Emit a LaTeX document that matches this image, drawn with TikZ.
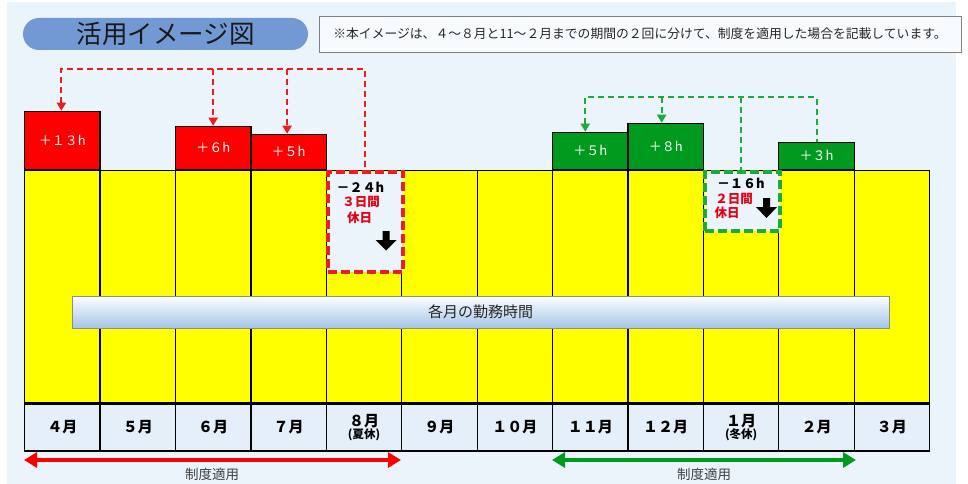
\documentclass[tikz,border=0pt]{standalone}
\usepackage{fontspec}
\setmainfont{Noto Sans CJK JP}
\usetikzlibrary{arrows.meta}
\definecolor{bgblue}{HTML}{EBF4FB}
\definecolor{pillblue}{HTML}{7399D4}
\definecolor{boxred}{HTML}{FF0000}
\definecolor{boxgreen}{HTML}{009A1E}
\definecolor{dashred}{HTML}{EE1C1C}
\definecolor{dashgreen}{HTML}{1BAA3C}
\definecolor{labfill}{HTML}{E4EFFA}
\definecolor{ylw}{HTML}{FFFF00}
\definecolor{txtred}{HTML}{E60012}
\definecolor{barblue}{HTML}{A4C6E8}
\tikzset{
  colbox/.style={draw=black, line width=1.3pt, fill=ylw, minimum width=75.42pt, minimum height=232pt, inner sep=0pt, anchor=north west},
  labbox/.style={draw=black, line width=1.3pt, fill=labfill, minimum width=75.42pt, minimum height=47pt, inner sep=0pt, anchor=north west, align=center, font=\bfseries\fontsize{15}{15}\selectfont},
  plusbox/.style={draw=black, line width=1.3pt, minimum width=75.42pt, inner sep=0pt, anchor=south west, text=white, font=\fontsize{13}{13}\selectfont},
  minusbox/.style={line width=4pt, dash pattern=on 9pt off 4pt, fill=bgblue, minimum width=75.42pt, inner sep=0pt, anchor=north west},
  conred/.style={draw=dashred, line width=2pt, dash pattern=on 6pt off 4pt},
  congreen/.style={draw=dashgreen, line width=2pt, dash pattern=on 6pt off 4pt},
  smalltip/.style={-{Triangle[length=8pt,width=9pt]}},
  spanarrow/.style={line width=3.5pt, {Triangle[length=13pt,width=15pt]}-{Triangle[length=13pt,width=15pt]}},
  minustxt/.style={font=\bfseries\fontsize{13}{13}\selectfont, inner sep=0pt},
  daytxt/.style={font=\bfseries\fontsize{12.5}{12.5}\selectfont, text=txtred, inner sep=0pt},
  spantxt/.style={font=\fontsize{13.5}{14}\selectfont, text=black!75, inner sep=0pt},
}
\begin{document}
\begin{tikzpicture}[x=1pt,y=-1pt]
\useasboundingbox (0,0) rectangle (968,484);
\fill[white] (0,0) rectangle (968,484);
\fill[bgblue] (7,2) rectangle (956,484);
% title and note
\node[fill=pillblue, rounded corners=16pt, minimum width=285pt, minimum height=32pt, inner sep=0pt, font=\fontsize{25.5}{26}\selectfont, text=black!90] (title) at (165.5,34) {活用イメージ図};
\node[draw=black!50, fill=white!60!bgblue, line width=0.8pt, minimum width=642pt, minimum height=36pt, inner sep=0pt, font=\fontsize{12.8}{13}\selectfont, text=black!85] (note) at (640,34) {※本イメージは、４～８月と11～２月までの期間の２回に分けて、制度を適用した場合を記載しています。};
% columns
\foreach \i in {1,...,12} {
  \pgfmathsetmacro{\xx}{24+(\i-1)*75.4167}
  \node[colbox] (col\i) at (\xx,170) {};
}
% plus boxes
\node[plusbox, fill=boxred, minimum height=58pt] (r4) at (col1.north west) {＋１３h};
\node[plusbox, fill=boxred, minimum height=43pt] (r6) at (col3.north west) {＋６h};
\node[plusbox, fill=boxred, minimum height=35pt] (r7) at (col4.north west) {＋５h};
\node[plusbox, fill=boxgreen, minimum height=37pt] (g11) at (col8.north west) {＋５h};
\node[plusbox, fill=boxgreen, minimum height=46pt] (g12) at (col9.north west) {＋８h};
\node[plusbox, fill=boxgreen, minimum height=27pt] (g2) at (col11.north west) {＋３h};
% minus boxes
\node[minusbox, draw=dashred, minimum height=100pt] (d8) at (col5.north west) {};
\node[minusbox, draw=dashgreen, minimum height=59pt] (d1) at (col10.north west) {};
\node[minustxt] (d8a) at (360.5,187) {－２４h};
\node[daytxt] (d8b) at (361,202) {３日間};
\node[daytxt] (d8c) at (359.5,218) {休日};
\node[minustxt] (d1a) at (741,183) {－１６h};
\node[daytxt] (d1b) at (734,199) {２日間};
\node[daytxt] (d1c) at (727,213) {休日};
\fill[black] (382.5,231) -- (389.5,231) -- (389.5,240) -- (396.5,240) -- (386,250.5) -- (375.5,240) -- (382.5,240) -- cycle;
\fill[black] (763,198) -- (770,198) -- (770,207) -- (777,207) -- (766.5,218) -- (756,207) -- (763,207) -- cycle;
% dashed connectors
\coordinate (rtop) at (0,69);
\coordinate (gtop) at (0,97);
\draw[conred, {Triangle[length=8pt,width=9pt]}-] ([xshift=-1pt]r4.north) -- ([xshift=-1pt]r4.north |- rtop) -| (d8.north);
\draw[conred, smalltip] (r6.north |- rtop) -- (r6.north);
\draw[conred, smalltip] ([xshift=-1.5pt]r7.north |- rtop) -- ([xshift=-1.5pt]r7.north);
\draw[congreen, {Triangle[length=8pt,width=9pt]}-] ([xshift=-5pt]g11.north) -- ([xshift=-5pt]g11.north |- gtop) -| (g2.north);
\draw[congreen, smalltip] ([xshift=-4pt]g12.north |- gtop) -- ([xshift=-4pt]g12.north);
\draw[congreen] ([xshift=-1.5pt]d1.north |- gtop) -- ([xshift=-1.5pt]d1.north);
% hours bar
\node[draw=black!45, line width=0.8pt, top color=white!90!bgblue, bottom color=barblue, minimum width=817pt, minimum height=32pt, inner sep=0pt, font=\fontsize{15}{15}\selectfont, text=black!85] (bar) at (480.5,312) {各月の勤務時間};
% month labels
\foreach \i/\m in {1/４月,2/５月,3/６月,4/７月,5/{８月\\[-3pt]{\fontsize{11.5}{11.5}\selectfont(夏休)}},6/９月,7/１０月,8/１１月,9/１２月,10/{１月\\[-3pt]{\fontsize{11.5}{11.5}\selectfont(冬休)}},11/２月,12/３月} {
  \node[labbox] (lab\i) at (col\i.south west) {\m};
}
% span arrows
\coordinate (redL) at (24,460);
\coordinate (redR) at (401,460);
\coordinate (grnL) at (552,460);
\coordinate (grnR) at (856,460);
\draw[spanarrow, draw=boxred, fill=boxred] (redL) -- (redR);
\draw[spanarrow, draw=boxgreen, fill=boxgreen] (grnL) -- (grnR);
\node[spantxt] (redlab) at (212,474) {制度適用};
\node[spantxt] (grnlab) at (704,474) {制度適用};
\end{tikzpicture}
\end{document}
